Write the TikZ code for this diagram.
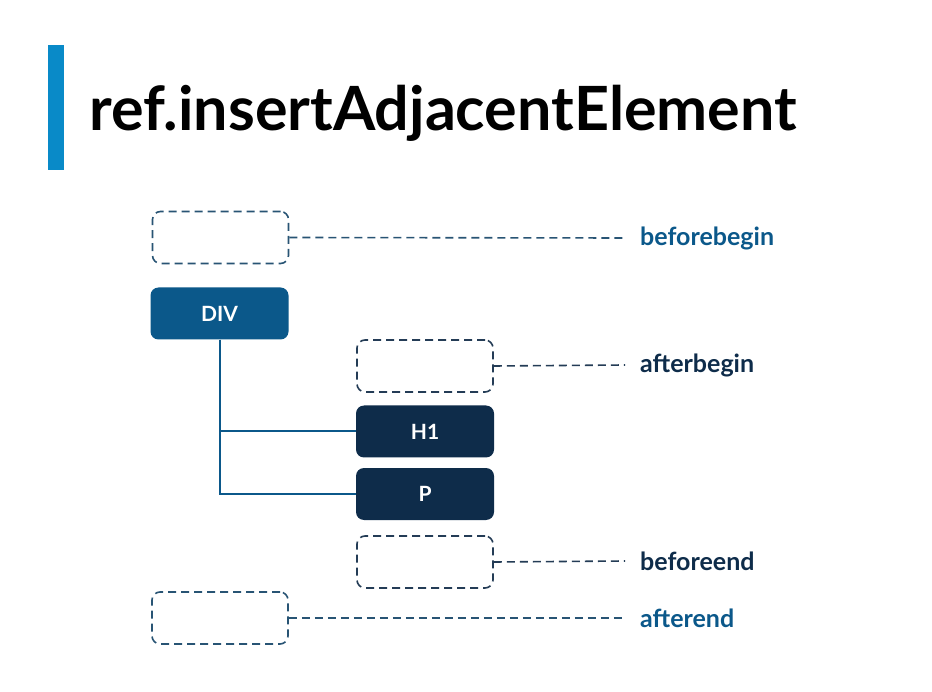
\documentclass[tikz,border=0pt]{standalone}
\usepackage{fontspec}
\setmainfont{Lato}
\definecolor{BarClr}{RGB}{9,138,200}
\definecolor{MidClr}{RGB}{11,88,138}
\definecolor{NavyClr}{RGB}{14,44,74}
\definecolor{OutDashClr}{RGB}{40,84,116}
\definecolor{InDashClr}{RGB}{36,60,86}

\begin{document}
\begin{tikzpicture}[x=1pt,y=-1pt,
  slot/.style={draw,dashed,dash pattern=on 8pt off 5pt,line width=1.6pt,rounded corners=8pt,
    minimum width=136pt,minimum height=52pt,inner sep=0pt},
  elem/.style={rounded corners=8pt,minimum width=138pt,minimum height=52pt,inner sep=0pt,
    text=white,font=\bfseries\fontsize{21}{21}\selectfont},
  lbl/.style={anchor=west,inner xsep=15pt,inner ysep=0pt,font=\bfseries\fontsize{25}{25}\selectfont},
  lead/.style={dashed,dash pattern=on 8pt off 5pt,line width=1.6pt},
  tree/.style={line width=2pt,color=MidClr}]
\useasboundingbox[fill=white] (0,0) rectangle (932,692);

% title
\fill[BarClr] (48,45) rectangle (64,170);
\node[anchor=base west,inner sep=0pt,font=\bfseries\fontsize{61}{61}\selectfont] (T) at (89,131) {ref.insertAdjacentElement};

% slots
\node[slot,draw=OutDashClr] (BB) at (220.5,237.5) {};
\node[slot,draw=InDashClr] (AB) at (425,366) {};
\node[slot,draw=InDashClr] (BE) at (425,562) {};
\node[slot,draw=OutDashClr] (AE) at (220,618) {};

% elements
\node[elem,fill=MidClr] (DIV) at (219.5,313.5) {DIV};
\node[elem,fill=NavyClr] (H) at (425,431.5) {H1};
\node[elem,fill=NavyClr] (P) at (425,494) {P};

% labels
\node[lbl,text=MidClr] (LBB) at (625,238) {beforebegin};
\node[lbl,text=NavyClr] (LAB) at (625,365) {afterbegin};
\node[lbl,text=NavyClr] (LBE) at (625,561) {beforeend};
\node[lbl,text=MidClr] (LAE) at (625,618) {afterend};

\draw[lead,OutDashClr] (BB.east) -- (LBB.west);
\draw[lead,InDashClr] (AB.east) -- (LAB.west);
\draw[lead,InDashClr] (BE.east) -- (LBE.west);
\draw[lead,OutDashClr] (AE.east) -- (LAE.west);

\draw[tree] (DIV.south) |- (H.west);
\draw[tree] (DIV.south) |- (P.west);

\end{tikzpicture}
\end{document}
